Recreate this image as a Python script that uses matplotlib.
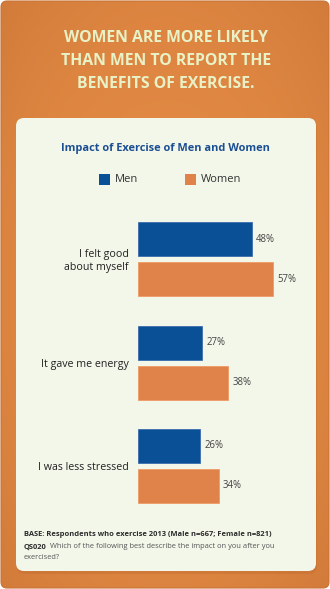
import numpy as np
import matplotlib
matplotlib.use("Agg")
import matplotlib.pyplot as plt
from matplotlib.patches import FancyBboxPatch

# Survey results: share of respondents reporting each benefit (%)
categories = ["I felt good\nabout myself", "It gave me energy", "I was less stressed"]
men = [48, 27, 26]
women = [57, 38, 34]
series_names = ["Men", "Women"]

headline = "WOMEN ARE MORE LIKELY\nTHAN MEN TO REPORT THE\nBENEFITS OF EXERCISE."
chart_title = "Impact of Exercise of Men and Women"
base_note = "BASE: Respondents who exercise 2013 (Male n=667; Female n=821)"
question_id = "QS020"
question_text = "Which of the following best describe the impact on you after you\nexercised?"

MEN_COLOR = "#0A5096"
WOMEN_COLOR = "#E0834A"
PANEL = "#F3F7EA"
HEAD_COLOR = "#E9F2C6"
TITLE_BLUE = "#1B4F93"
TEXT = "#333333"

plt.rcParams["font.family"] = ["Open Sans", "DejaVu Sans"]

W, H = 330, 589
fig = plt.figure(figsize=(W / 100, H / 100), dpi=100)

# Background canvas in pixel coordinates
bg = fig.add_axes([0, 0, 1, 1])
bg.set_xlim(0, W)
bg.set_ylim(H, 0)
bg.axis("off")

# Orange card with a soft vignette
yy, xx = np.mgrid[0:H, 0:W]
d = np.sqrt(((xx - W / 2) / (W / 2)) ** 2 + ((yy - H / 2) / (H / 2)) ** 2) / np.sqrt(2)
c0 = np.array([0xE3, 0x8B, 0x45]) / 255
c1 = np.array([0xD2, 0x7B, 0x3A]) / 255
t = np.clip(d, 0, 1)[..., None] ** 2.2
grad = c0 * (1 - t) + c1 * t
card = FancyBboxPatch((1, 1), W - 2, H - 2, boxstyle="round,pad=0,rounding_size=6",
                      facecolor="none", edgecolor="#C97436", linewidth=0.8, zorder=2)
bg.add_patch(card)
im = bg.imshow(grad, extent=(0, W, H, 0), zorder=1, aspect="auto")
im.set_clip_path(card)

# Light inner panel with a faint drop shadow
shadow = FancyBboxPatch((17, 121), 300, 453, boxstyle="round,pad=0,rounding_size=8",
                        facecolor="#B8652C", edgecolor="none", alpha=0.3, zorder=3)
bg.add_patch(shadow)
panel = FancyBboxPatch((16, 118), 300, 453, boxstyle="round,pad=0,rounding_size=8",
                       facecolor=PANEL, edgecolor="none", zorder=4)
bg.add_patch(panel)

# Headline
bg.text(166, 61, headline, ha="center", va="center", fontsize=11.3, fontweight="bold",
        color=HEAD_COLOR, linespacing=1.55, zorder=5)

# Chart title
bg.text(165, 148, chart_title, ha="center", va="center", fontsize=7.9,
        fontweight="bold", color=TITLE_BLUE, zorder=5)

# Legend
for x0, name, col in [(99, series_names[0], MEN_COLOR), (185, series_names[1], WOMEN_COLOR)]:
    bg.add_patch(plt.Rectangle((x0, 174), 11, 10.5, facecolor=col, edgecolor="none", zorder=5))
    bg.text(x0 + 16, 179.5, name, ha="left", va="center", fontsize=8.0, color=TEXT, zorder=5)

# Footnotes
bg.text(24, 535, base_note, ha="left", va="center", fontsize=5.4, fontweight="bold",
        color="#2B2B2B", zorder=5)
bg.text(24, 547, question_id, ha="left", va="center", fontsize=5.4, fontweight="bold",
        color="#2B2B2B", zorder=5)
bg.text(49.5, 547, question_text.split("\n")[0], ha="left", va="center", fontsize=5.4,
        color="#555555", zorder=5)
bg.text(24, 557.5, question_text.split("\n")[1], ha="left", va="center", fontsize=5.4,
        color="#555555", zorder=5)

# Bar chart axes: 0-60 % spans x 138..280 px, groups spaced 103.5 px from y=259
px_per_pct = 2.37
left_px = 138
xmax = 60
spacing = 103.5
top_px = 259 - 0.5 * spacing
bot_px = 259 + 2.5 * spacing
ax = fig.add_axes([left_px / W, 1 - bot_px / H, px_per_pct * xmax / W, (bot_px - top_px) / H])
ax.patch.set_alpha(0)
ax.set_zorder(6)
ax.set_xlim(0, xmax)
ax.set_ylim(len(categories) - 0.5, -0.5)

y = np.arange(len(categories))
off = 20 / spacing
bh = 34 / spacing
b1 = ax.barh(y - off, men, height=bh, color=MEN_COLOR, edgecolor="#3A6EAE", linewidth=0.6)
b2 = ax.barh(y + off, women, height=bh, color=WOMEN_COLOR, edgecolor="#EE9A66", linewidth=0.6)

for bars, vals in [(b1, men), (b2, women)]:
    for rect, v in zip(bars, vals):
        ax.annotate(f"{v}%", (v, rect.get_y() + rect.get_height() / 2),
                    xytext=(3.2, 0), textcoords="offset points", ha="left", va="center",
                    fontsize=6.9, color="#444444")

ax.set_yticks(y)
ax.set_yticklabels(categories, fontsize=7.7, color="#222222", linespacing=1.15)
ax.tick_params(axis="y", length=0, pad=6.5)
ax.set_xticks([])
for s in ax.spines.values():
    s.set_visible(False)

fig.savefig("out.png", dpi=100)
